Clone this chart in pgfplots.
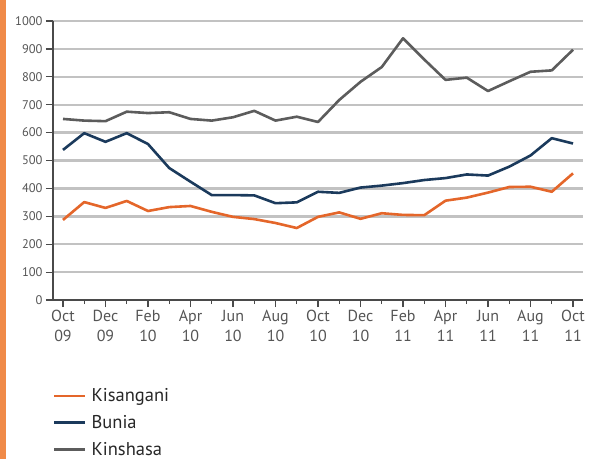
\documentclass[border=0pt]{standalone}
\usepackage{fontspec}
\setmainfont{PT Sans}
\usepackage{pgfplots}
\pgfplotsset{compat=1.18}
\definecolor{kis}{HTML}{E4662A}
\definecolor{bun}{HTML}{1B3A5C}
\definecolor{kin}{HTML}{5C5C5C}
\definecolor{gridgray}{HTML}{C2C2C2}
\definecolor{axgray}{HTML}{4A4A4A}
\definecolor{labgray}{HTML}{555555}
\definecolor{barorange}{HTML}{F08A48}
\begin{document}
\begin{tikzpicture}[x=1pt,y=1pt]
\path[use as bounding box] (0,0) rectangle (601,459);
\fill[barorange] (0,0) rectangle (6,459);
\begin{axis}[
  at={(53pt,159pt)}, anchor=south west,
  scale only axis, width=530pt, height=279pt,
  xmin=-0.47, xmax=24.47, ymin=0, ymax=1000,
  axis lines*=left,
  axis line style={axgray, line width=1.6pt},
  xtick={0,2,...,24},
  minor xtick={1,3,...,23},
  xticklabels={{Oct\\09},{Dec\\09},{Feb\\10},{Apr\\10},{Jun\\10},{Aug\\10},{Oct\\10},{Dec\\10},{Feb\\11},{Apr\\11},{Jun\\11},{Aug\\11},{Oct\\11}},
  xticklabel style={align=center, font=\fontsize{16}{20}\selectfont, text=labgray},
  ytick={0,100,...,1000},
  yticklabel style={font=\fontsize{12.5}{14}\selectfont, text=labgray, /pgf/number format/1000 sep={}},
  /pgf/number format/assume math mode=true,
  tick align=outside,
  major tick length=7pt,
  minor tick length=4pt,
  tick style={axgray, line width=1.2pt},
  ymajorgrids,
  grid style={gridgray, line width=2.4pt},
  legend style={at={(-0.006,-0.303)}, anchor=north west, draw=none, fill=none,
    font=\fontsize{18.5}{20}\selectfont, text=black!85, row sep=8pt, column sep=3pt},
  legend cell align=left,
  legend image code/.code={\draw[#1] (0pt,0pt) -- (31pt,0pt);},
]
\addplot[kis, line width=2.6pt, line join=round] coordinates {
(0,287)(1,351)(2,330)(3,355)(4,319)(5,333)(6,337)(7,316)(8,298)(9,290)(10,276)(11,258)(12,298)
(13,314)(14,291)(15,311)(16,305)(17,304)(18,356)(19,367)(20,385)(21,405)(22,406)(23,388)(24,454)};
\addlegendentry{Kisangani}
\addplot[bun, line width=2.6pt, line join=round] coordinates {
(0,538)(1,598)(2,567)(3,598)(4,559)(5,473)(6,424)(7,376)(8,376)(9,375)(10,347)(11,350)(12,388)
(13,384)(14,403)(15,410)(16,419)(17,430)(18,437)(19,450)(20,446)(21,478)(22,518)(23,580)(24,561)};
\addlegendentry{Bunia}
\addplot[kin, line width=2.6pt, line join=round] coordinates {
(0,649)(1,643)(2,641)(3,675)(4,670)(5,673)(6,649)(7,643)(8,655)(9,678)(10,643)(11,657)(12,638)
(13,717)(14,782)(15,835)(16,938)(17,862)(18,789)(19,797)(20,749)(21,784)(22,818)(23,823)(24,897)};
\addlegendentry{Kinshasa}
\end{axis}
\end{tikzpicture}
\end{document}
